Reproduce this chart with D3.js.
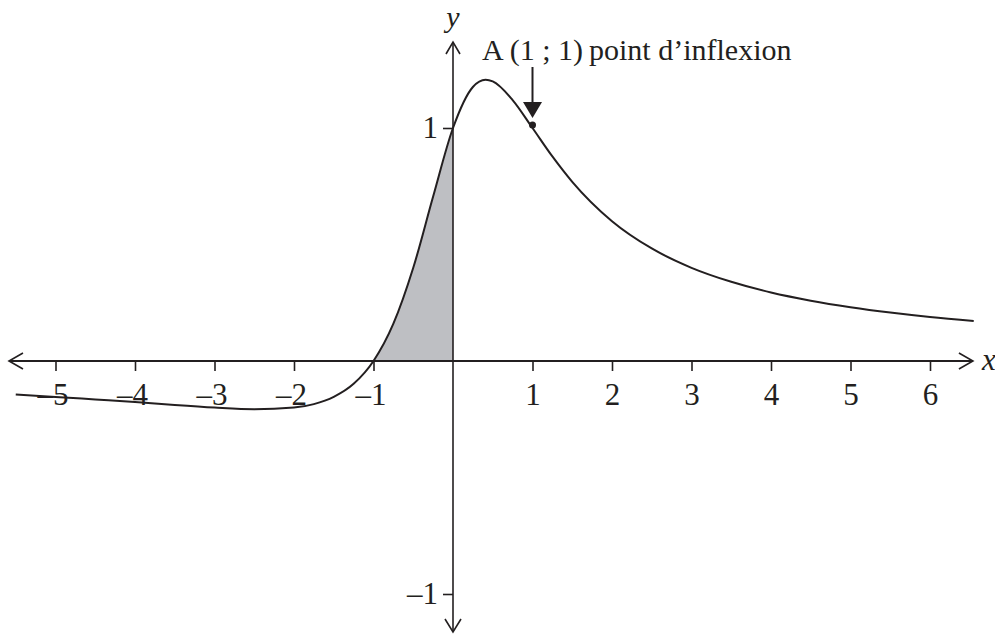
<!DOCTYPE html>
<html>
<head>
<meta charset="utf-8">
<script src="https://cdn.jsdelivr.net/npm/d3@7"></script>
<style>
  body { margin: 0; background: #fff; }
  svg { display: block; }
  text { font-family: "Liberation Serif", "Times New Roman", serif; fill: #231f20; }
</style>
</head>
<body>
<div id="chart"></div>
<script>
// points (x, y)
const curveX = [-5.5, -5, -4.5, -4, -3.5, -3, -2.5, -2, -1.75, -1.5, -1.25, -1, -0.75, -0.5, -0.25, 0,
                0.25, 0.41, 0.5, 0.75, 1, 1.25, 1.5, 2, 2.5, 3, 3.5, 4, 4.5, 5, 5.5, 6, 6.55];
const curveY = [-0.144, -0.154, -0.165, -0.176, -0.189, -0.2, -0.207, -0.2, -0.185, -0.154, -0.098, 0, 0.16, 0.4, 0.706, 1,
                1.176, 1.207, 1.2, 1.12, 1, 0.878, 0.769, 0.6, 0.483, 0.4, 0.34, 0.294, 0.259, 0.231, 0.208, 0.189, 0.172];
const xTicks = [-5, -4, -3, -2, -1, 1, 2, 3, 4, 5, 6];
const yTicks = [-1, 1];
const shadeRange = [-1, 0];
const pointA = [1, 1];
const labelA = "A\u2009(1 ; 1)\u2009point d\u2019inflexion";

const W = 995, H = 634;
const ink = "#231f20";

const svg = d3.select("#chart").append("svg")
    .attr("width", W).attr("height", H);

const x = d3.scaleLinear().domain([-5, 6]).range([55.5, 930]);
const y = d3.scaleLinear().domain([-1, 1]).range([594, 128]);

const pts = curveX.map((v, i) => [v, curveY[i]]);

// shaded region between -1 and 0
const shadePts = pts.filter(p => p[0] >= shadeRange[0] && p[0] <= shadeRange[1]);
svg.append("path")
    .datum(shadePts)
    .attr("fill", "#bebfc3")
    .attr("d", d3.area().x(d => x(d[0])).y0(y(0)).y1(d => y(d[1])).curve(d3.curveMonotoneX));

// axes lines with open arrowheads
const xl = x(-5.585), xr = x(6.54), yt = y(1.369), yb = y(-1.163);
svg.append("line").attr("x1", xl).attr("x2", xr).attr("y1", y(0)).attr("y2", y(0))
    .attr("stroke", ink).attr("stroke-width", 2);
svg.append("line").attr("x1", x(0)).attr("x2", x(0)).attr("y1", yt).attr("y2", yb)
    .attr("stroke", ink).attr("stroke-width", 1.6);

const arrows = [
    `M${xr - 14},${y(0) - 8}L${xr},${y(0)}L${xr - 14},${y(0) + 8}`,
    `M${xl + 14},${y(0) - 8}L${xl},${y(0)}L${xl + 14},${y(0) + 8}`,
    `M${x(0) - 7},${yt + 12}L${x(0)},${yt}L${x(0) + 7},${yt + 12}`,
    `M${x(0) - 8},${yb - 13}L${x(0)},${yb}L${x(0) + 8},${yb - 13}`
];
svg.selectAll("path.arrow").data(arrows).enter().append("path")
    .attr("class", "arrow")
    .attr("d", d => d)
    .attr("fill", "none").attr("stroke", ink).attr("stroke-width", 1.6);

// x ticks
const gx = svg.append("g")
    .attr("transform", `translate(0,${y(0)})`)
    .call(d3.axisBottom(x).tickValues(xTicks).tickSize(10).tickSizeOuter(0)
        .tickFormat(d => d < 0 ? "\u2013" + Math.abs(d) : d));
gx.select(".domain").remove();
gx.selectAll(".tick line").attr("stroke", ink).attr("stroke-width", 1.6);
gx.selectAll(".tick text")
    .attr("y", 44).attr("dy", 0)
    .attr("dx", d => d < 0 ? -3 : 0)
    .style("font-size", "31px")
    .attr("fill", ink);

// y ticks
const gy = svg.append("g")
    .attr("transform", `translate(${x(0)},0)`)
    .call(d3.axisLeft(y).tickValues(yTicks).tickSize(10).tickSizeOuter(0).tickPadding(5)
        .tickFormat(d => d < 0 ? "\u2013" + Math.abs(d) : d));
gy.select(".domain").remove();
gy.selectAll(".tick line").attr("stroke", ink).attr("stroke-width", 1.6);
gy.selectAll(".tick text")
    .style("font-size", "31px")
    .attr("fill", ink);

// curve
svg.append("path")
    .datum(pts)
    .attr("fill", "none")
    .attr("stroke", ink)
    .attr("stroke-width", 2)
    .attr("d", d3.line().x(d => x(d[0])).y(d => y(d[1])).curve(d3.curveMonotoneX));

// axis names
svg.append("text").attr("x", x(0)).attr("y", 27).attr("text-anchor", "middle")
    .style("font-size", "30px").style("font-style", "italic").text("y");
svg.append("text").attr("x", xr + 9).attr("y", y(0) + 9)
    .style("font-size", "31px").style("font-style", "italic").text("x");

// point A + arrow
svg.append("circle").attr("cx", x(pointA[0])).attr("cy", y(pointA[1]) - 3).attr("r", 3.5).attr("fill", ink);
svg.append("line").attr("x1", x(pointA[0])).attr("x2", x(pointA[0]))
    .attr("y1", 67).attr("y2", 104).attr("stroke", ink).attr("stroke-width", 2);
svg.append("path")
    .attr("d", `M${x(pointA[0]) - 9.5},102L${x(pointA[0]) + 9.5},102L${x(pointA[0])},118Z`)
    .attr("fill", ink);
svg.append("text").attr("x", 482).attr("y", 60)
    .style("font-size", "30px").text(labelA);
</script>
</body>
</html>
